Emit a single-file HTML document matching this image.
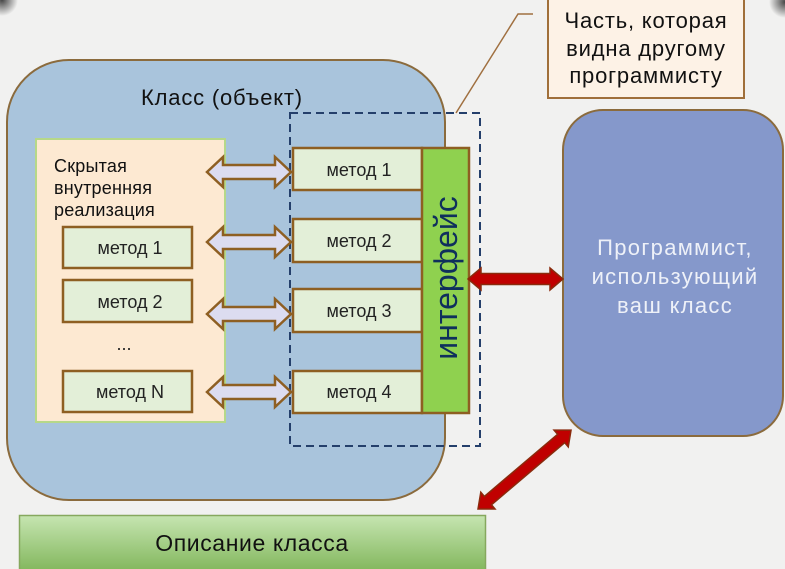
<!DOCTYPE html>
<html>
<head>
<meta charset="utf-8">
<style>
  html, body { margin:0; padding:0; background:#f1f1f0; }
  svg { display:block; }
  text { font-family: "Liberation Sans", "Noto Sans CJK SC", sans-serif; }
</style>
</head>
<body>
<svg width="785" height="569" viewBox="0 0 785 569" xmlns="http://www.w3.org/2000/svg">
  <defs>
    <linearGradient id="gBottom" x1="0" y1="0" x2="0" y2="1">
      <stop offset="0" stop-color="#c6e5b1"/>
      <stop offset="1" stop-color="#7db356"/>
    </linearGradient>
    <radialGradient id="gCorner" cx="0.5" cy="0.5" r="0.5">
      <stop offset="0" stop-color="#333" stop-opacity="0.9"/>
      <stop offset="1" stop-color="#333" stop-opacity="0"/>
    </radialGradient>
  </defs>

  <rect x="0" y="0" width="785" height="569" fill="#f1f1f0"/>
  <circle cx="2" cy="0" r="16" fill="url(#gCorner)"/>
  <circle cx="785" cy="2" r="16" fill="url(#gCorner)"/>

  <!-- Class (object) -->
  <rect x="7" y="60" width="438" height="440" rx="62" ry="62" fill="#a9c4dc" stroke="#8b6b3d" stroke-width="2"/>
  <text x="222" y="105" font-size="22" letter-spacing="0.8" text-anchor="middle" fill="#111">Класс (объект)</text>

  <!-- Hidden impl -->
  <rect x="36" y="139" width="189" height="283" fill="#fde9d2" stroke="#b6d889" stroke-width="2"/>
  <text font-size="18" fill="#111" letter-spacing="0.2">
    <tspan x="54" y="172">Скрытая</tspan>
    <tspan x="54" y="194">внутренняя</tspan>
    <tspan x="54" y="216">реализация</tspan>
  </text>

  <g fill="#e3efd8" stroke="#8e5f22" stroke-width="2.5">
    <rect x="63" y="227" width="129" height="41"/>
    <rect x="63" y="280" width="129" height="42"/>
    <rect x="63" y="371" width="129" height="41"/>
  </g>
  <g font-size="18" fill="#222" text-anchor="middle">
    <text x="130" y="254">метод 1</text>
    <text x="130" y="308">метод 2</text>
    <text x="124" y="350">...</text>
    <text x="130" y="398">метод N</text>
  </g>

  <!-- Dashed interface region -->
  <rect x="290" y="113" width="190" height="333" fill="none" stroke="#243f6b" stroke-width="2" stroke-dasharray="8,5"/>

  <!-- Right methods -->
  <g fill="#e3efd8" stroke="#8e5f22" stroke-width="2.5">
    <rect x="293" y="148" width="129" height="42"/>
    <rect x="293" y="219" width="129" height="43"/>
    <rect x="293" y="289" width="129" height="43"/>
    <rect x="293" y="371" width="129" height="42"/>
  </g>
  <g font-size="18" fill="#222" text-anchor="middle">
    <text x="359" y="176">метод 1</text>
    <text x="359" y="247">метод 2</text>
    <text x="359" y="317">метод 3</text>
    <text x="359" y="398">метод 4</text>
  </g>

  <!-- Interface bar -->
  <rect x="422" y="148" width="47" height="265" fill="#8fd14f" stroke="#8e5f22" stroke-width="2.5"/>
  <text x="0" y="0" font-size="32" fill="#0f2f5c" text-anchor="middle" transform="translate(457,278) rotate(-90)">интерфейс</text>

  <!-- Lavender double arrows -->
  <g fill="#dcdcf0" stroke="#8e5f22" stroke-width="2.5" stroke-linejoin="miter">
    <path d="M207,172 L223,157 L223,165 L275,165 L275,157 L291,172 L275,187 L275,179 L223,179 L223,187 Z"/>
    <path d="M207,242 L223,227 L223,235 L275,235 L275,227 L291,242 L275,257 L275,249 L223,249 L223,257 Z"/>
    <path d="M207,314 L223,299 L223,307 L275,307 L275,299 L291,314 L275,329 L275,321 L223,321 L223,329 Z"/>
    <path d="M207,392 L223,377 L223,385 L275,385 L275,377 L291,392 L275,407 L275,399 L223,399 L223,407 Z"/>
  </g>

  <!-- Callout -->
  <polyline points="456,113 518,14 533,14" fill="none" stroke="#a07040" stroke-width="1.5"/>
  <rect x="548" y="-3" width="196" height="101" fill="#fdf2e6" stroke="#a06f3a" stroke-width="2"/>
  <g font-size="22" fill="#111" text-anchor="middle" letter-spacing="0.8">
    <text x="646" y="28">Часть, которая</text>
    <text x="646" y="56">видна другому</text>
    <text x="646" y="83">программисту</text>
  </g>

  <!-- Programmer box -->
  <rect x="563" y="110" width="220" height="326" rx="40" ry="40" fill="#8598cb" stroke="#8b6b3d" stroke-width="2"/>
  <g font-size="22" fill="#eef1f8" text-anchor="middle" letter-spacing="1.3">
    <text x="675" y="255">Программист,</text>
    <text x="675" y="284">использующий</text>
    <text x="675" y="313">ваш класс</text>
  </g>

  <!-- Red arrows -->
  <g fill="#c00000" stroke="#8a2a0c" stroke-width="1.5">
    <path d="M468,279 L481,268 L481,273.5 L550,273.5 L550,268 L563,279 L550,290 L550,284.5 L481,284.5 L481,290 Z"/>
    <g transform="translate(478,509) rotate(-40.3)">
      <path d="M0,0 L13,-11 L13,-5.5 L109,-5.5 L109,-11 L122,0 L109,11 L109,5.5 L13,5.5 L13,11 Z"/>
    </g>
  </g>

  <!-- Bottom description -->
  <rect x="19.5" y="515.5" width="466" height="60" fill="url(#gBottom)" stroke="#86a85e" stroke-width="1.5"/>
  <text x="252" y="551" font-size="23" letter-spacing="0.6" fill="#111" text-anchor="middle">Описание класса</text>
</svg>
</body>
</html>
